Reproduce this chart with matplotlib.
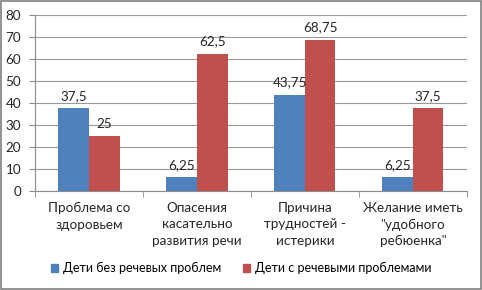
import matplotlib
matplotlib.use("Agg")
from matplotlib import pyplot as plt
from matplotlib.patches import Rectangle, Patch
import numpy as np

plt.rcParams['font.family'] = ['Lato', 'DejaVu Sans']

categories = ["Проблема со\nздоровьем",
              "Опасения\nкасательно\nразвития речи",
              "Причина\nтрудностей -\nистерики",
              "Желание иметь\n\"удобного\nребюенка\""]
series_names = ["Дети без речевых проблем", "Дети с речевыми проблемами"]
no_problems = [37.5, 6.25, 43.75, 6.25]
with_problems = [25, 62.5, 68.75, 37.5]
colors = ["#4F81BD", "#C0504D"]
fs = 9.7

fig = plt.figure(figsize=(4.82, 2.90), dpi=100)
ax = fig.add_axes([0.0726, 0.342, 0.896, 0.606])

x = np.arange(len(categories))
w = 0.283
b1 = ax.bar(x - w / 2, no_problems, w, color=colors[0], zorder=3)
b2 = ax.bar(x + w / 2, with_problems, w, color=colors[1], zorder=3)


def fmt(v):
    return ("%g" % v).replace(".", ",")


for bars, vals in ((b1, no_problems), (b2, with_problems)):
    for r, v in zip(bars, vals):
        ax.annotate(fmt(v), (r.get_x() + r.get_width() / 2, v),
                    xytext=(0, 4.5), textcoords="offset points",
                    ha="center", va="bottom", fontsize=fs, color="#262626")

ax.set_xlim(-0.5, len(categories) - 0.5)
ax.set_ylim(0, 80)
ax.set_yticks(range(0, 81, 10))
ax.yaxis.grid(True, color="#999999", linewidth=0.8, zorder=0)
ax.set_axisbelow(True)

ax.set_xticks(x)
ax.set_xticklabels(categories, fontsize=fs, linespacing=1.45, color="#262626")
ax.set_xticks(np.arange(-0.5, len(categories)), minor=True)
ax.tick_params(axis="x", which="major", length=0, pad=8)
ax.tick_params(axis="x", which="minor", length=4, color="#8C8C8C")
ax.tick_params(axis="y", length=4, color="#8C8C8C", labelsize=fs,
               labelcolor="#262626", pad=6)

for s in ("top", "right"):
    ax.spines[s].set_visible(False)
for s in ("left", "bottom"):
    ax.spines[s].set_color("#8C8C8C")
    ax.spines[s].set_linewidth(0.8)

handles = [Patch(color=c) for c in colors]
fig.legend(handles, series_names, loc="center", bbox_to_anchor=(0.5, 0.076),
           ncol=2, frameon=False, fontsize=9, handlelength=0.6,
           handleheight=0.6, handletextpad=0.4, columnspacing=1.7)

fig.patches.append(Rectangle((0.002, 0.003), 0.995, 0.993,
                             transform=fig.transFigure, fill=False,
                             edgecolor="#7F7F7F", linewidth=1.2))

fig.savefig("out.png", dpi=100)
